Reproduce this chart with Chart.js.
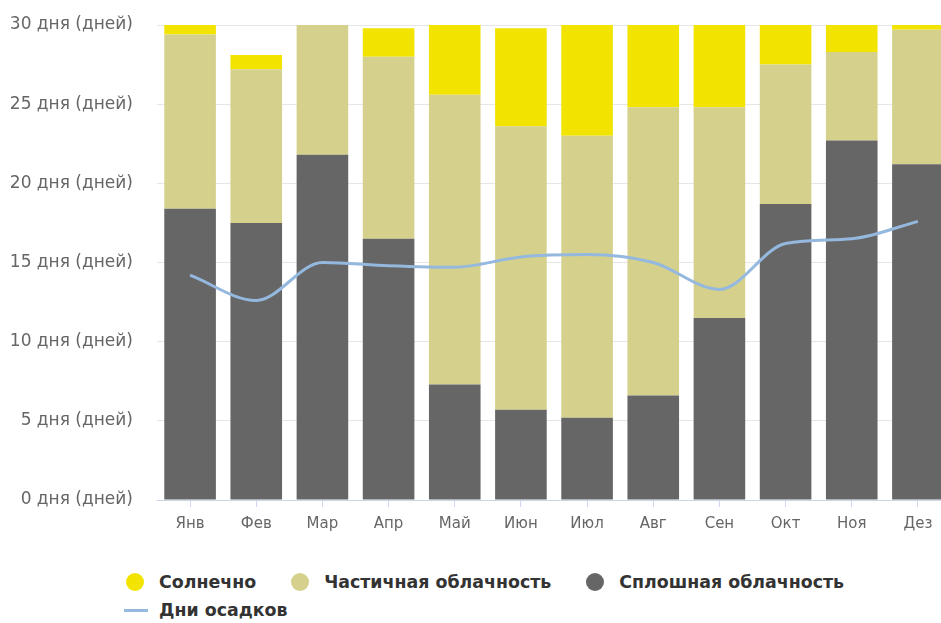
<!DOCTYPE html>
<html>
<head>
<meta charset="utf-8">
<script src="https://cdn.jsdelivr.net/npm/chart.js@4/dist/chart.umd.min.js"></script>
<style>
  html, body { margin: 0; padding: 0; background: #ffffff; overflow: hidden; width: 941px; height: 623px; }
  #wrap { position: relative; width: 951px; height: 548px; }
  #legend { position: absolute; left: 124px; top: 568px; width: 800px;
    font-family: "DejaVu Sans", sans-serif; font-weight: bold; font-size: 17.4px; color: #333333; }
  .row { display: flex; align-items: center; height: 28px; }
  .item { display: flex; align-items: center; margin-right: 33px; white-space: nowrap; }
  .sym { width: 20px; height: 18px; margin-right: 15px; position: relative; }
  .dot { position: absolute; left: 2px; top: 0; width: 18px; height: 18px; border-radius: 50%; }
  .ln { position: absolute; left: 0; top: 8px; width: 24px; height: 3px; }
</style>
</head>
<body>
<div id="wrap"><canvas id="c"></canvas></div>
<div id="legend"></div>
<script>
const months = ['Янв','Фев','Мар','Апр','Май','Июн','Июл','Авг','Сен','Окт','Ноя','Дез'];
const overcastDays = [18.4, 17.5, 21.8, 16.5, 7.3, 5.7, 5.2, 6.6, 11.5, 18.7, 22.7, 21.2];
const partlyCloudyDays = [11.0, 9.7, 9.2, 11.5, 18.3, 17.9, 17.8, 18.2, 13.3, 8.8, 5.6, 8.5];
const sunnyDays = [1.6, 0.9, 0.0, 1.8, 5.4, 6.2, 8.0, 6.2, 5.2, 3.5, 1.7, 1.3];
const precipitationDays = [14.2, 12.6, 15.0, 14.8, 14.7, 15.35, 15.5, 15.0, 13.3, 16.2, 16.5, 17.6];
const yTicks = [0, 5, 10, 15, 20, 25, 30];
const tickSuffix = ' дня (дней)';

const seriesLabels = ['Сплошная облачность', 'Частичная облачность', 'Солнечно', 'Дни осадков'];
const legendOrder = [2, 1, 0, 3];

const barStyle = { type: 'bar', stack: 'days', order: 1, borderWidth: 0,
  barPercentage: 0.78, categoryPercentage: 1.0 };

const data = {
  labels: months,
  datasets: [
    Object.assign({}, barStyle, { label: seriesLabels[0], data: overcastDays, backgroundColor: '#666666' }),
    Object.assign({}, barStyle, { label: seriesLabels[1], data: partlyCloudyDays, backgroundColor: '#d5d18c' }),
    Object.assign({}, barStyle, { label: seriesLabels[2], data: sunnyDays, backgroundColor: '#f2e400' }),
    { type: 'line', label: seriesLabels[3], data: precipitationDays, stack: 'precip', order: 0,
      borderColor: '#94b8de', backgroundColor: '#94b8de', borderWidth: 3,
      pointRadius: 0, tension: 0.35, cubicInterpolationMode: 'monotone', fill: false }
  ]
};

const htmlLegend = {
  id: 'htmlLegend',
  afterUpdate(chart) {
    const el = document.getElementById('legend');
    el.innerHTML = '';
    const rows = [legendOrder.slice(0, 3), legendOrder.slice(3)];
    rows.forEach(r => {
      const row = document.createElement('div');
      row.className = 'row';
      r.forEach(i => {
        const ds = chart.data.datasets[i];
        const item = document.createElement('div');
        item.className = 'item';
        const sym = document.createElement('div');
        sym.className = 'sym';
        const mark = document.createElement('div');
        mark.className = ds.type === 'line' ? 'ln' : 'dot';
        mark.style.background = ds.type === 'line' ? ds.borderColor : ds.backgroundColor;
        sym.appendChild(mark);
        const txt = document.createElement('span');
        txt.textContent = ds.label;
        item.appendChild(sym);
        item.appendChild(txt);
        row.appendChild(item);
      });
      el.appendChild(row);
    });
  }
};

new Chart(document.getElementById('c'), {
  data,
  plugins: [htmlLegend],
  options: {
    responsive: true,
    maintainAspectRatio: false,
    animation: false,
    layout: { padding: { top: 25, right: 0, bottom: 0, left: 0 } },
    plugins: { legend: { display: false }, tooltip: { enabled: false } },
    scales: {
      x: {
        stacked: true,
        offset: true,
        grid: { display: true, drawOnChartArea: false, drawTicks: true, tickLength: 7,
          color: '#ccd6eb', offset: false },
        border: { display: true, color: '#ccd6eb' },
        ticks: { color: '#666666', padding: 8, font: { family: 'DejaVu Sans', size: 15 }, maxRotation: 0 },
        afterFit(scale) { scale.height = 48; }
      },
      y: {
        stacked: true,
        min: 0, max: 30,
        afterBuildTicks(scale) { scale.ticks = yTicks.map(v => ({ value: v })); },
        grid: { color: '#e6e6e6', drawTicks: true, tickLength: 21, tickColor: 'rgba(0,0,0,0)' },
        border: { display: false },
        ticks: { color: '#666666', padding: 3, font: { family: 'DejaVu Sans', size: 17 },
          callback: v => v + tickSuffix },
        afterFit(scale) { scale.width = 157; }
      }
    }
  }
});
</script>
</body>
</html>
